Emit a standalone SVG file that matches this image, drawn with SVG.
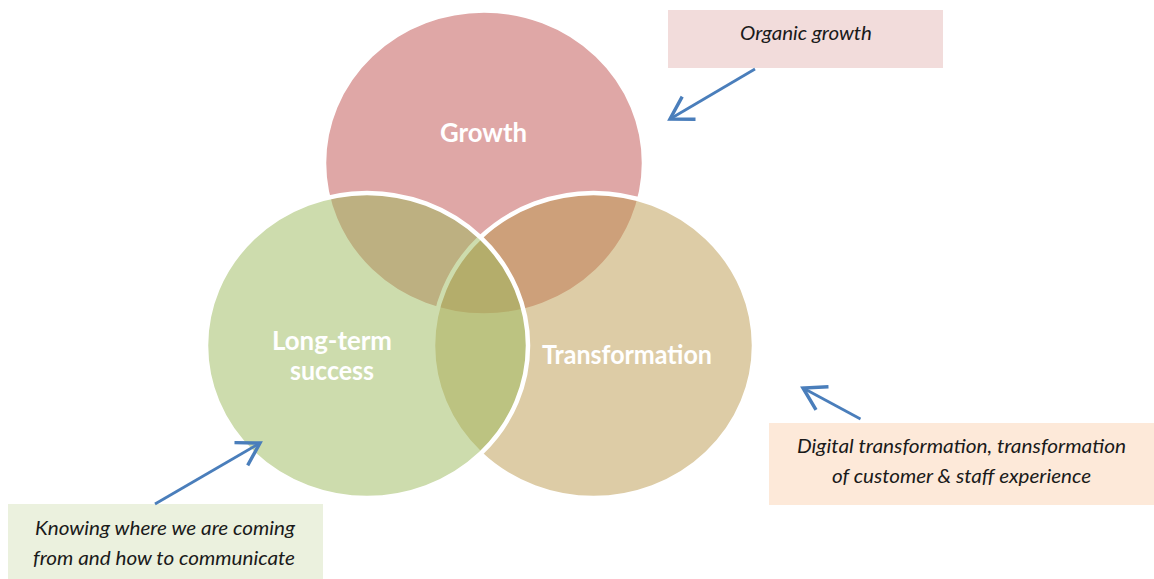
<svg xmlns="http://www.w3.org/2000/svg" width="1154" height="579" viewBox="0 0 1154 579">
  <defs>
    <style>
      .set { stroke: #ffffff; stroke-width: 4.5; fill-opacity: 0.5; }
      .setlabel { font-family: Lato, "Open Sans", "Liberation Sans", sans-serif; font-weight: bold; fill: #ffffff; text-anchor: middle; }
      .note { font-family: Lato, "Open Sans", "Liberation Sans", sans-serif; font-style: italic; font-weight: 400; font-size: 19px; fill: #1a1a1a; text-anchor: middle; }
      .pointer { stroke: #4a7ebb; stroke-width: 2.75; fill: none; }
    </style>
    <marker id="open-arrow" markerUnits="userSpaceOnUse" markerWidth="30" markerHeight="30" refX="0" refY="0" viewBox="-20 -12 24 24" orient="auto" overflow="visible">
      <path d="M -17.5 -10.5 L 0 0 L -17.5 10.5" fill="none" stroke="#4a7ebb" stroke-width="2.75" stroke-linejoin="miter"/>
    </marker>
  </defs>

  <rect width="1154" height="579" fill="#ffffff"/>

  <!-- Venn sets -->
  <g id="growth">
    <ellipse class="set" cx="484" cy="163" rx="160" ry="152.5" fill="#c0504d"/>
  </g>
  <g id="transformation">
    <ellipse class="set" cx="593.5" cy="345.5" rx="160.5" ry="152.5" fill="#bb994d"/>
  </g>
  <g id="long-term-success">
    <ellipse class="set" cx="367" cy="345.5" rx="161" ry="152.5" fill="#9bb95b"/>
  </g>

  <!-- set labels -->
  <g id="labels">
    <text class="setlabel" x="483.5" y="141.5" font-size="27" textLength="87" lengthAdjust="spacingAndGlyphs">Growth</text>
    <text class="setlabel" x="627" y="364" font-size="27" textLength="170" lengthAdjust="spacingAndGlyphs">Transformation</text>
    <text class="setlabel" x="332" y="350" font-size="27" textLength="120" lengthAdjust="spacingAndGlyphs">Long-term</text>
    <text class="setlabel" x="332" y="380" font-size="27" textLength="84" lengthAdjust="spacingAndGlyphs">success</text>
  </g>

  <!-- callout notes -->
  <g id="note-organic">
    <rect x="668" y="10" width="275" height="58" fill="#f2dcdb"/>
    <text class="note" x="806" y="40" textLength="132" lengthAdjust="spacingAndGlyphs">Organic growth</text>
  </g>
  <g id="note-digital">
    <rect x="769" y="423" width="385" height="82" fill="#fde9d9"/>
    <text class="note" x="961.5" y="453" textLength="329" lengthAdjust="spacingAndGlyphs">Digital transformation, transformation</text>
    <text class="note" x="961.5" y="483" textLength="259" lengthAdjust="spacingAndGlyphs">of customer &amp; staff experience</text>
  </g>
  <g id="note-knowing">
    <rect x="8" y="504" width="315" height="75" fill="#ebf1de"/>
    <text class="note" x="165" y="535" textLength="260" lengthAdjust="spacingAndGlyphs">Knowing where we are coming</text>
    <text class="note" x="164" y="565" textLength="262" lengthAdjust="spacingAndGlyphs">from and how to communicate</text>
  </g>

  <!-- connectors -->
  <g id="connectors">
    <line class="pointer" x1="755" y1="69" x2="670" y2="119" marker-end="url(#open-arrow)"/>
    <line class="pointer" x1="860.5" y1="419" x2="803" y2="388" marker-end="url(#open-arrow)"/>
    <line class="pointer" x1="155" y1="504" x2="260" y2="443" marker-end="url(#open-arrow)"/>
  </g>
</svg>
